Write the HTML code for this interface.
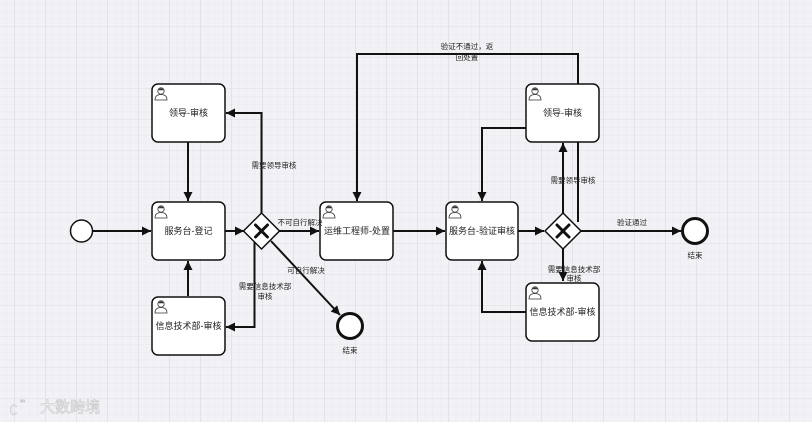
<!DOCTYPE html>
<html><head><meta charset="utf-8"><style>
html,body{margin:0;padding:0;background:#f2f2f6;}
svg{display:block}
text{font-family:"Liberation Sans","Noto Sans CJK SC",sans-serif;fill:#222;}
</style></head><body>
<svg width="812" height="422" viewBox="0 0 812 422" xmlns="http://www.w3.org/2000/svg">
<defs>
<pattern id="minor" x="-1" y="-4" width="7.75" height="7.75" patternUnits="userSpaceOnUse"><path d="M7.75 0V7.75H0" fill="none" stroke="#e8e8ee" stroke-width="1"/></pattern>
<pattern id="major" x="15" y="-4" width="31" height="31" patternUnits="userSpaceOnUse"><path d="M31 0V31H0" fill="none" stroke="#dcdce3" stroke-width="1"/></pattern>
<marker id="a" markerWidth="10" markerHeight="10" refX="9" refY="5" orient="auto" markerUnits="userSpaceOnUse"><path d="M0,0.5 L9,5 L0,9.5 Z" fill="#111"/></marker>
<g id="user"><circle cx="7" cy="5" r="3.2" fill="#fff" stroke="#333" stroke-width="0.8"/><path d="M1,14 Q1,8.5 7,8.5 Q13,8.5 13,14 Z" fill="#fff" stroke="#333" stroke-width="0.8"/><path d="M3.8,4.2 Q7,0.5 10.2,4.2" fill="#333"/></g>
</defs>
<rect width="812" height="422" fill="#f2f2f6"/>
<rect width="812" height="422" fill="url(#minor)"/>
<rect width="812" height="422" fill="url(#major)"/>

<g stroke="#111" stroke-width="2" fill="none">
<!-- left side -->
<line x1="93" y1="231" x2="151" y2="231" marker-end="url(#a)"/>
<line x1="188" y1="142" x2="188" y2="201" marker-end="url(#a)"/>
<line x1="188" y1="296" x2="188" y2="261" marker-end="url(#a)"/>
<line x1="225" y1="231" x2="244" y2="231" marker-end="url(#a)"/>
<polyline points="261.5,213 261.5,113 226,113" marker-end="url(#a)"/>
<polyline points="254.5,240 254.5,327 226,327" marker-end="url(#a)"/>
<line x1="279" y1="231" x2="319" y2="231" marker-end="url(#a)"/>
<line x1="271" y1="241" x2="340" y2="315" marker-end="url(#a)"/>
<!-- top loop -->
<polyline points="578,222 578,54 357,54 357,201" marker-end="url(#a)"/>
<line x1="393" y1="231" x2="445" y2="231" marker-end="url(#a)"/>
<polyline points="526,128 482,128 482,201" marker-end="url(#a)"/>
<polyline points="526,312 482,312 482,261" marker-end="url(#a)"/>
<line x1="518" y1="231" x2="544" y2="231" marker-end="url(#a)"/>
<line x1="563" y1="213" x2="563" y2="143" marker-end="url(#a)"/>
<line x1="563" y1="249" x2="563" y2="281" marker-end="url(#a)"/>
<line x1="581" y1="231" x2="681" y2="231" marker-end="url(#a)"/>
</g>

<!-- start / ends -->
<circle cx="81.5" cy="231" r="11" fill="#fff" stroke="#111" stroke-width="1.5"/>
<circle cx="350" cy="326" r="12.5" fill="#fff" stroke="#111" stroke-width="3"/>
<circle cx="695" cy="231" r="12.5" fill="#fff" stroke="#111" stroke-width="3"/>

<!-- boxes -->
<g fill="#fff" stroke="#111" stroke-width="1.5">
<rect x="152" y="84" width="73" height="58" rx="6"/>
<rect x="152" y="202" width="73" height="58" rx="6"/>
<rect x="152" y="297" width="73" height="58" rx="6"/>
<rect x="320" y="202" width="73" height="58" rx="6"/>
<rect x="446" y="202" width="72" height="58" rx="6"/>
<rect x="526" y="84" width="73" height="58" rx="6"/>
<rect x="526" y="283" width="73" height="58" rx="6"/>
</g>
<use href="#user" x="154" y="86"/>
<use href="#user" x="154" y="204"/>
<use href="#user" x="154" y="299"/>
<use href="#user" x="322" y="204"/>
<use href="#user" x="448" y="204"/>
<use href="#user" x="528" y="86"/>
<use href="#user" x="528" y="285"/>

<!-- gateways -->
<g fill="#fff" stroke="#111" stroke-width="1.5">
<polygon points="261.5,213 279.5,231 261.5,249 243.5,231"/>
<polygon points="563,213 581,231 563,249 545,231"/>
</g>
<g stroke="#111" stroke-width="3" stroke-linecap="round">
<path d="M255.5,225 L267.5,237 M267.5,225 L255.5,237"/>
<path d="M557,225 L569,237 M569,225 L557,237"/>
</g>

<!-- box labels -->
<g font-size="9" text-anchor="middle">
<text x="188.5" y="116">领导-审核</text>
<text x="188.5" y="234">服务台-登记</text>
<text x="188.5" y="329">信息技术部-审核</text>
<text x="357" y="234">运维工程师-处置</text>
<text x="482" y="234">服务台-验证审核</text>
<text x="562.5" y="116">领导-审核</text>
<text x="562.5" y="315">信息技术部-审核</text>
</g>
<!-- edge labels -->
<g font-size="7.5" text-anchor="middle">
<text x="274" y="168">需要领导审核</text>
<text x="300" y="225">不可自行解决</text>
<text x="306" y="273">可自行解决</text>
<text x="265" y="289">需要信息技术部</text>
<text x="265" y="299">审核</text>
<text x="350" y="353">结束</text>
<text x="467" y="49">验证不通过，返</text>
<text x="467" y="60">回处置</text>
<text x="573" y="183">需要领导审核</text>
<text x="574" y="272">需要信息技术部</text>
<text x="574" y="281">审核</text>
<text x="632" y="225">验证通过</text>
<text x="695" y="258">结束</text>
</g>
<!-- watermark -->
<g fill="#fff" stroke="#c8c8cc" stroke-width="0.6">
<text x="10" y="412" font-size="14" style="fill:#fff">ʗ</text>
<text x="20" y="403" font-size="7" style="fill:#fff">∞</text>
<text x="40" y="412" font-size="15" style="fill:#fff;stroke:#c4c4c8">大数跨境</text>
</g>
</svg>
</body></html>
